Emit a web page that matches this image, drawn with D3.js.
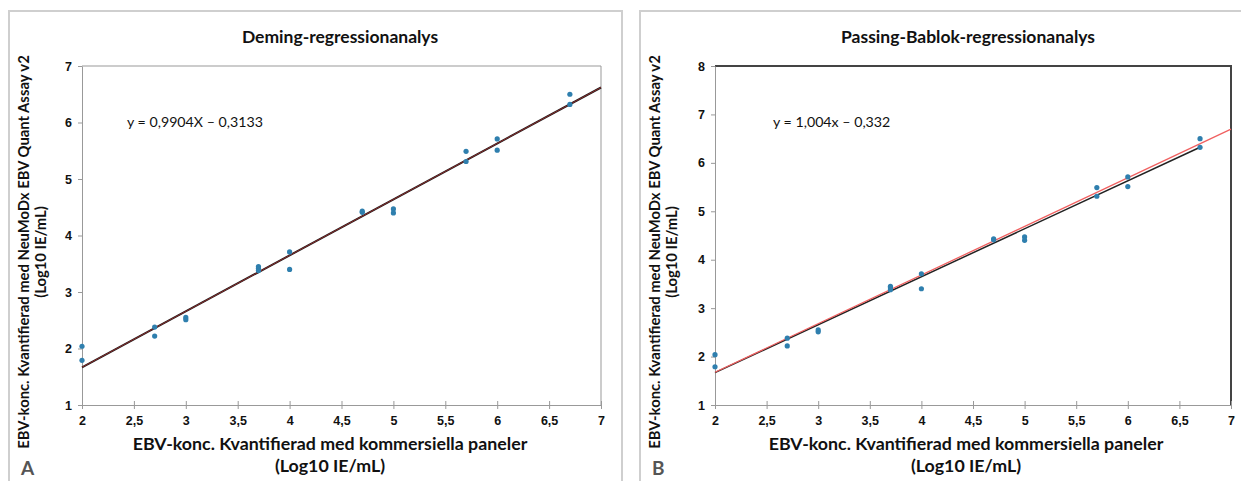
<!DOCTYPE html>
<html>
<head>
<meta charset="utf-8">
<script src="https://cdn.jsdelivr.net/npm/d3@7"></script>
<style>
  body { margin: 0; background: #fff; }
  svg { display: block; font-family: Lato, "Open Sans", sans-serif; }
</style>
</head>
<body>
<div id="chart"></div>
<script>
// measured values (log10 IE/mL), commercial panel vs NeuMoDx
const xVals = [2, 2, 2.7, 2.7, 3, 3, 3.7, 3.7, 3.7, 4, 4, 4.7, 4.7, 5, 5, 5.7, 5.7, 6, 6, 6.7, 6.7];
const yVals = [2.04, 1.79, 2.38, 2.22, 2.55, 2.51, 3.45, 3.42, 3.38, 3.71, 3.40, 4.43, 4.41, 4.47, 4.40, 5.49, 5.31, 5.71, 5.51, 6.50, 6.32];

const xTicks = [2, 2.5, 3, 3.5, 4, 4.5, 5, 5.5, 6, 6.5, 7];
const yTicksA = [1, 2, 3, 4, 5, 6, 7];
const yTicksB = [1, 2, 3, 4, 5, 6, 7, 8];

// regression fits
const deming = {slope: 0.9904, intercept: -0.3133};
const passingBablok = {slope: 1.004, intercept: -0.332};

const titles = ["Deming-regressionanalys", "Passing-Bablok-regressionanalys"];
const equations = ["y = 0,9904X \u2013 0,3133", "y = 1,004x \u2013 0,332"];
const panelLetters = ["A", "B"];
const yLabel = ["EBV-konc. Kvantifierad med NeuMoDx EBV Quant Assay v2", "(Log10 IE/mL)"];
const xLabel = ["EBV-konc. Kvantifierad med kommersiella paneler", "(Log10 IE/mL)"];

const points = xVals.map((x, i) => ({x: x, y: yVals[i]}));
const fmt = d => String(d).replace(".", ",");

const svg = d3.select("#chart").append("svg")
    .attr("width", 1241)
    .attr("height", 481);

function drawPanel(cfg) {
    // outer frame (open at the bottom, image is cropped there)
    svg.append("path")
        .attr("d", `M${cfg.frameX0},490 V${11} H${cfg.frameX1} V490`)
        .attr("fill", "none")
        .attr("stroke", "#cfcfcf")
        .attr("stroke-width", 2);

    const x = d3.scaleLinear().domain([2, 7]).range([cfg.left, cfg.right]);
    const y = d3.scaleLinear().domain(cfg.yDomain).range([405, 66]);

    const g = svg.append("g");

    // top/right border of plot area
    g.append("path")
        .attr("d", `M${cfg.left},${y.range()[1]} H${cfg.right} V${y.range()[0]}`)
        .attr("fill", "none")
        .attr("stroke", cfg.boxColor)
        .attr("stroke-width", cfg.boxWidth);

    const xAxis = g.append("g")
        .attr("transform", `translate(0,${y.range()[0]})`)
        .call(d3.axisBottom(x).tickValues(xTicks).tickFormat(fmt).tickSizeInner(4).tickSizeOuter(0));
    xAxis.selectAll(".tick line").attr("y1", -4).attr("stroke", "#999");
    xAxis.select(".domain").attr("stroke", "#999");
    xAxis.selectAll(".tick text")
        .attr("dy", "0.71em").attr("y", 11)
        .attr("font-size", 12.5).attr("font-weight", "bold").attr("fill", "#111");

    const yAxis = g.append("g")
        .attr("transform", `translate(${cfg.left},0)`)
        .call(d3.axisLeft(y).tickValues(cfg.yTicks).tickFormat(fmt).tickSizeInner(4).tickSizeOuter(0));
    yAxis.selectAll(".tick line").attr("stroke", "#999");
    yAxis.select(".domain").attr("stroke", "#999");
    yAxis.selectAll(".tick text")
        .attr("x", -10)
        .attr("font-size", 12.5).attr("font-weight", "bold").attr("fill", "#111");

    // regression lines
    cfg.lines.forEach(l => {
        g.append("line")
            .attr("x1", x(l.from)).attr("y1", y(l.fit.slope * l.from + l.fit.intercept))
            .attr("x2", x(l.to)).attr("y2", y(l.fit.slope * l.to + l.fit.intercept))
            .attr("stroke", l.color)
            .attr("stroke-width", l.width);
    });

    g.selectAll("circle")
        .data(points)
        .join("circle")
        .attr("cx", d => x(d.x))
        .attr("cy", d => y(d.y))
        .attr("r", 2.6)
        .attr("fill", "#2f7fae");

    svg.append("text")
        .attr("x", cfg.titleX).attr("y", 43)
        .attr("text-anchor", "middle")
        .attr("font-size", 17.5).attr("font-weight", "bold").attr("fill", "#111")
        .text(cfg.title);

    svg.append("text")
        .attr("x", cfg.eqX).attr("y", 127)
        .attr("font-size", 14.2).attr("fill", "#111")
        .text(cfg.equation);

    // y-axis title, two lines
    yLabel.forEach((t, i) => {
        svg.append("text")
            .attr("transform", `translate(${cfg.frameX0 + 20 + i * 17},252) rotate(-90)`)
            .attr("text-anchor", "middle")
            .attr("font-size", 14.8).attr("font-weight", "bold").attr("fill", "#111")
            .text(t);
    });

    xLabel.forEach((t, i) => {
        svg.append("text")
            .attr("x", cfg.xLabelX).attr("y", 450 + i * 22)
            .attr("text-anchor", "middle")
            .attr("font-size", 17.8).attr("font-weight", "bold").attr("fill", "#111")
            .text(t);
    });

    svg.append("text")
        .attr("x", cfg.frameX0 + 12).attr("y", 475)
        .attr("font-size", 19).attr("font-weight", "bold").attr("fill", "#555")
        .text(cfg.letter);
}

drawPanel({
    frameX0: 9, frameX1: 622,
    left: 82, right: 601,
    yDomain: [1, 7], yTicks: yTicksA,
    boxColor: "#999", boxWidth: 1,
    title: titles[0], titleX: 340,
    equation: equations[0], eqX: 127,
    xLabelX: 330,
    letter: panelLetters[0],
    lines: [
        {fit: deming, from: 2, to: 7, color: "#1a1a1a", width: 2},
        {fit: deming, from: 2, to: 7, color: "#8a2a2a", width: 1}
    ]
});

drawPanel({
    frameX0: 640, frameX1: 1260,
    left: 715, right: 1231,
    yDomain: [1, 8], yTicks: yTicksB,
    boxColor: "#444", boxWidth: 2,
    title: titles[1], titleX: 968,
    equation: equations[1], eqX: 773,
    xLabelX: 966,
    letter: panelLetters[1],
    lines: [
        {fit: deming, from: 2, to: 6.7, color: "#222", width: 1.5},
        {fit: passingBablok, from: 2, to: 7, color: "#f06060", width: 1.3}
    ]
});
</script>
</body>
</html>
